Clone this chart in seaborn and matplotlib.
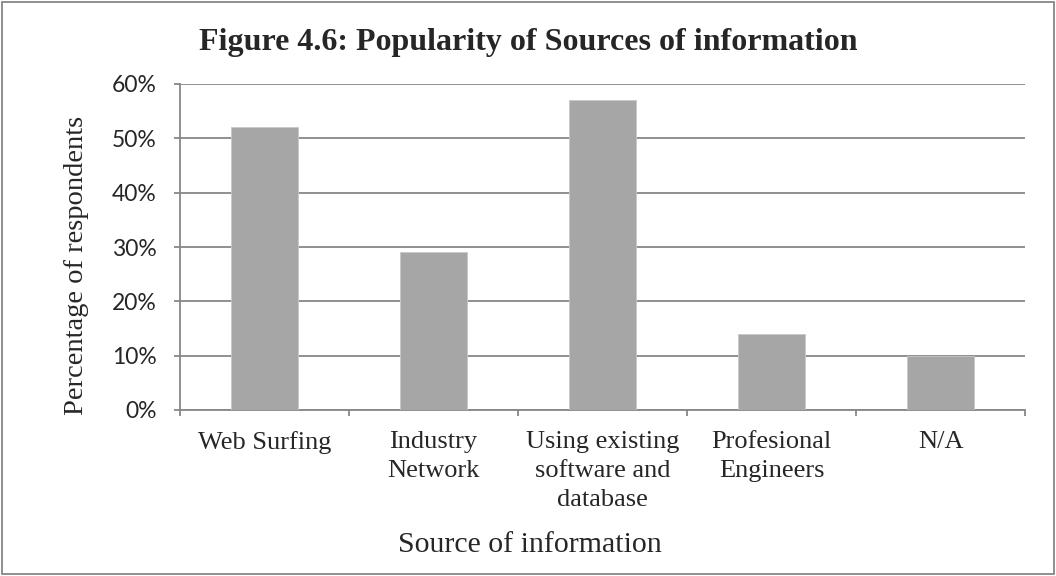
import matplotlib
matplotlib.use("Agg")
import matplotlib.pyplot as plt
from matplotlib.patches import Rectangle
from matplotlib.ticker import FixedLocator, FuncFormatter
import seaborn as sns
import pandas as pd

# Survey results: share of respondents naming each source
sources = ["Web Surfing", "Industry\nNetwork", "Using existing\nsoftware and\ndatabase",
           "Profesional\nEngineers", "N/A"]
share_pct = [52, 29, 57, 14, 10]
y_ticks = [0, 10, 20, 30, 40, 50, 60]

title_text = "Figure 4.6: Popularity of Sources of information"
x_title = "Source of information"
y_title = "Percentage of respondents"

sns.set_style("white")
plt.rcParams["font.family"] = ["Liberation Serif", "DejaVu Serif"]

W, H = 1056, 576
fig = plt.figure(figsize=(W / 100, H / 100), dpi=100)
ax = fig.add_axes([180 / W, 1 - 410 / H, 845 / W, 326 / H])

df = pd.DataFrame({"source": sources, "share": share_pct})
sns.barplot(data=df, x="source", y="share", color="#A6A6A6", saturation=1,
            width=0.4, ax=ax, zorder=3)
for p in ax.patches:
    p.set_edgecolor("#C8C8C8")
    p.set_linewidth(0.6)

grey = "#878787"
ax.set_xlim(-0.5, len(sources) - 0.5)
ax.set_ylim(0, 60)
ax.yaxis.set_major_locator(FixedLocator(y_ticks))
ax.yaxis.set_major_formatter(FuncFormatter(lambda v, _: f"{v:.0f}%"))
ax.grid(axis="y", color=grey, linewidth=1.3, zorder=0)
ax.set_axisbelow(True)

for side in ("top", "right"):
    ax.spines[side].set_visible(False)
for side in ("left", "bottom"):
    ax.spines[side].set_color(grey)
    ax.spines[side].set_linewidth(1.3)

# category boundaries carry the tick marks on the x axis
ax.set_xticks([i - 0.5 for i in range(len(sources) + 1)], minor=True)
ax.tick_params(axis="x", which="minor", direction="out", length=4, width=1.3,
               color=grey, bottom=True)
ax.tick_params(axis="x", which="major", length=0, pad=15)
ax.set_xticklabels(sources, fontsize=19, linespacing=1.42)
for lbl in ax.get_xticklabels():
    lbl.set_multialignment("center")

ax.tick_params(axis="y", which="major", direction="out", length=4, width=1.3,
               color=grey, left=True, pad=13)
for lbl in ax.get_yticklabels():
    lbl.set_family("Lato")
    lbl.set_fontsize(16.5)

ax.set_xlabel("")
ax.set_ylabel("")

fig.text(0.5, 1 - 50 / H, title_text, ha="center", va="baseline",
         fontsize=23, fontweight="bold")
fig.text(530 / W, 1 - 552 / H, x_title, ha="center", va="baseline", fontsize=21.5)
fig.text(77 / W, 1 - 265 / H, y_title, ha="center", va="center",
         rotation=90, fontsize=20.5)

# outer frame of the chart area
fig.patches.append(Rectangle((2 / W, 2 / H), 1 - 4 / W, 1 - 4 / H,
                             transform=fig.transFigure, fill=False,
                             edgecolor=grey, linewidth=1.3))

fig.savefig("out.png", dpi=100)
